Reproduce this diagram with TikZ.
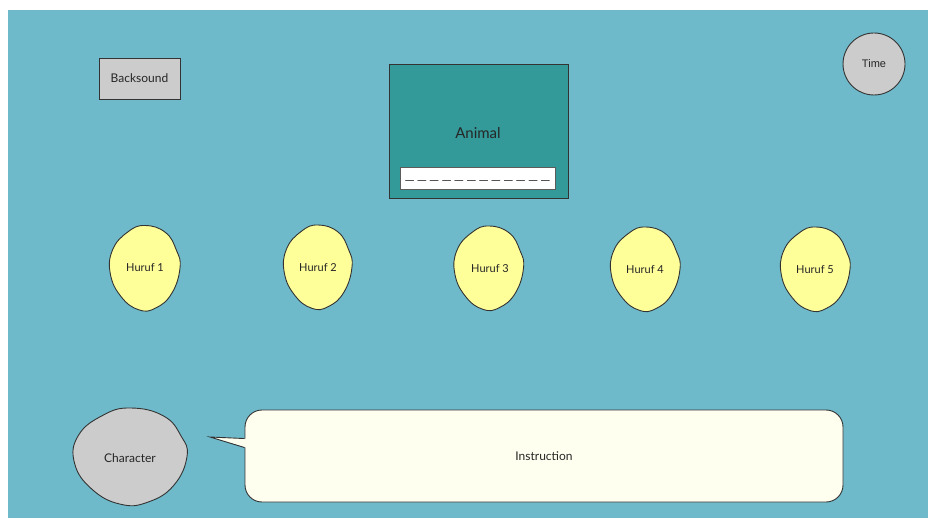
\documentclass[tikz,border=0pt]{standalone}
\usepackage{fontspec}
\setmainfont{Lato}
\newfontfamily\timefont{Liberation Sans}
\usetikzlibrary{calc}

\definecolor{canvasblue}{HTML}{6EBACB}
\definecolor{tealbox}{HTML}{339999}
\definecolor{greybox}{HTML}{CCCCCC}
\definecolor{letteryellow}{HTML}{FFFF99}
\definecolor{bubblecream}{HTML}{FFFFF0}
\definecolor{inkline}{HTML}{333333}

\tikzset{
  outline/.style={draw=inkline, line width=0.9pt},
  smalltext/.style={font=\fontsize{11}{13}\selectfont, text=black!85},
  boxtext/.style={font=\fontsize{12}{14}\selectfont, text=black!85},
  plainbox/.style={outline, fill=greybox, rectangle, inner sep=0pt,
    minimum width=81pt, minimum height=41pt},
}

% irregular hand-drawn blob centred at (#1,#2) with radii #3, #4
\newcommand\blobshape[5]{%
  \filldraw[outline, fill=#5, shift={(#1,#2)}, xscale=#3, yscale=#4]
    plot[smooth cycle, tension=0.75] coordinates
    {(0:1) (38:0.97) (72:0.99) (100:1.0) (135:0.96) (172:1.0)
     (205:1.02) (240:0.98) (270:1.0) (305:1.02) (335:0.99)};%
}
% one long blank of the answer line
\newcommand\blankmark{\scalebox{1.7}[1]{\_}}

\begin{document}
\begin{tikzpicture}[x=1pt, y=-1pt]
  \useasboundingbox (0,0) rectangle (928,518);
  \fill[white] (0,0) rectangle (928,518);
  \fill[canvasblue] (8,10) rectangle (928,518);

  % top row
  \node[plainbox, boxtext] (backsound) at (139.5,78.5) {Backsound};

  \node[outline, fill=tealbox, rectangle, inner sep=0pt,
        minimum width=179pt, minimum height=134pt] (animal) at (478.5,131) {};
  \node[font=\fontsize{15}{17}\selectfont, text=black!85] (animaltext) at (478,133) {Animal};
  \node[draw=inkline!80, line width=0.8pt, fill=white, rectangle, inner sep=0pt,
        minimum width=155pt, minimum height=22pt] (answer) at (477.5,178) {};
  \node[font=\fontsize{13}{15}\selectfont, text=black!85, inner sep=0pt] (dashes) at (477.5,180)
    {\makebox[146pt]{\blankmark\hfill\blankmark\hfill\blankmark\hfill\blankmark\hfill
     \blankmark\hfill\blankmark\hfill\blankmark\hfill\blankmark\hfill\blankmark\hfill
     \blankmark\hfill\blankmark\hfill\blankmark}};

  \node[outline, fill=greybox, circle, minimum size=62pt, inner sep=0pt,
        font=\timefont\fontsize{11}{13}\selectfont, text=black!85] (time) at (874,64) {Time};

  % letter blobs
  \blobshape{145}{268}{35}{42.5}{letteryellow}
  \node[smalltext] (h1) at (145,268) {Huruf 1};
  \blobshape{318}{267}{34}{42}{letteryellow}
  \node[smalltext] (h2) at (318,268) {Huruf 2};
  \blobshape{489}{268}{34.5}{42}{letteryellow}
  \node[smalltext] (h3) at (490,269) {Huruf 3};
  \blobshape{645.5}{269}{34.5}{42}{letteryellow}
  \node[smalltext] (h4) at (645,270) {Huruf 4};
  \blobshape{815.5}{269}{34.5}{42}{letteryellow}
  \node[smalltext] (h5) at (815,270) {Huruf 5};

  % character and speech bubble
  \blobshape{130.5}{456.5}{56.5}{48.5}{greybox}
  \node[boxtext] (character) at (130,458) {Character};

  \node[outline, fill=bubblecream, rectangle, rounded corners=17pt, inner sep=0pt,
        minimum width=598pt, minimum height=92pt, boxtext] (ins) at (544,456) {Instruction};
  \coordinate (tip) at (210,437);
  \coordinate (tailtop) at ($(ins.north west)+(0,29)$);
  \coordinate (tailbot) at ($(ins.north west)+(0,38)$);
  \fill[bubblecream] ($(tailtop)+(1.5,0)$) -- (tip) -- ($(tailbot)+(1.5,0)$) -- cycle;
  \draw[outline] (tailtop) -- (tip) -- (tailbot);
\end{tikzpicture}
\end{document}
